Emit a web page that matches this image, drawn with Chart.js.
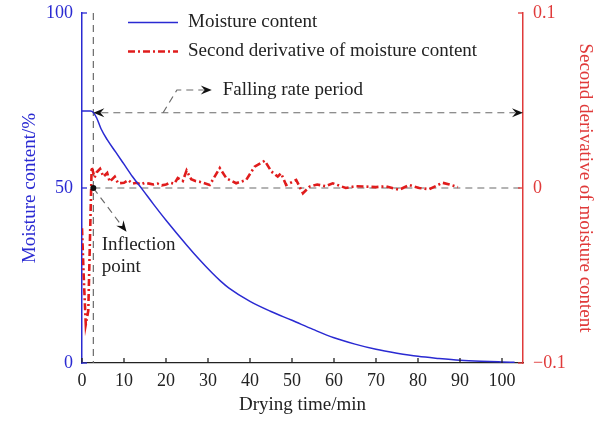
<!DOCTYPE html>
<html>
<head>
<meta charset="utf-8">
<script src="https://cdn.jsdelivr.net/npm/chart.js@4"></script>
<style>
  html, body { margin: 0; padding: 0; background: #fff; }
  #wrap { width: 602px; height: 421px; }
</style>
</head>
<body>
<div id="wrap"><canvas id="chart"></canvas></div>
<script>
// moisture content curve (%)
const timeMoist = [0, 2, 2.7, 3.5, 4.5, 6, 8, 10, 12, 14.5, 17, 20, 25, 28, 31, 33, 35, 40, 45, 50, 55, 60, 65, 70, 75, 80, 85, 90, 95, 100, 103];
const moisture  = [72, 72, 71.6, 70, 67, 63.8, 60.3, 56.8, 53.3, 49.4, 45.4, 40.8, 33.6, 29.5, 25.7, 23.4, 21.4, 17.6, 14.7, 12.2, 9.6, 7.2, 5.4, 3.9, 2.8, 1.9, 1.3, 0.8, 0.5, 0.3, 0.2];

// second derivative of moisture content
const timeDeriv = [0, 0.4, 0.9, 1.5, 2.3, 3, 3.5, 4.3, 5.1, 6, 6.6, 7.8, 8.6, 10, 11, 12, 13, 14, 15, 16, 17, 18, 19, 20, 21, 22, 22.8, 24, 24.9, 26, 27, 28, 30.4, 32.8, 34.4, 36.7, 39.1, 41.1, 43.5, 45.1, 46.6, 47.4, 48.6, 51, 52.6, 54.2, 56, 58, 59.7, 62.8, 65, 67.5, 70, 72.3, 75.5, 77.9, 80.3, 82.7, 85.8, 87.5, 89.5];
const deriv     = [-0.023, -0.05, -0.078, -0.07, 0.012, 0.006, 0.009, 0.011, 0.0065, 0.0086, 0.0036, 0.0065, 0.0027, 0.003, 0.0045, 0.0025, 0.003, 0.002, 0.003, 0.0025, 0.002, 0.0025, 0.0015, 0.002, 0.003, 0.0025, 0.0057, 0.004, 0.010, 0.005, 0.004, 0.0036, 0.0017, 0.0114, 0.0055, 0.0027, 0.0046, 0.0122, 0.0156, 0.0094, 0.0065, 0.0084, 0.0017, 0.0046, -0.003, 0.0008, 0.002, 0.001, 0.0027, 0, 0.001, 0.0008, 0.0005, 0.001, -0.001, 0.0017, 0, -0.0007, 0.003, 0.002, 0.0005];

const xTicks = [0, 10, 20, 30, 40, 50, 60, 70, 80, 90, 100];
const yTicks = [0, 50, 100];
const y2Ticks = [-0.1, 0, 0.1];

const BLUE = '#2a2ad2';
const RED = '#e01c1c';
const AXRED = '#e03a3a';
const GREY = '#6a6a6a';
const FONT = '"Liberation Serif", "Times New Roman", serif';

function arrowHead(ctx, x, y, ang, len = 11, half = 4.5) {
  ctx.save();
  ctx.translate(x, y);
  ctx.rotate(ang);
  ctx.beginPath();
  ctx.moveTo(0, 0);
  ctx.lineTo(-len, -half);
  ctx.lineTo(-len * 0.65, 0);
  ctx.lineTo(-len, half);
  ctx.closePath();
  ctx.fillStyle = '#111';
  ctx.fill();
  ctx.restore();
}

// vertical axes: no extra room for the end labels
function fitV(w) {
  return s => { s.width = w; s.paddingTop = 0; s.paddingBottom = 0; };
}

const decor = {
  id: 'decor',
  beforeDatasetsDraw(chart) {
    const { ctx, scales: { x, y } } = chart;
    const X = v => x.getPixelForValue(v), Y = v => y.getPixelForValue(v);
    ctx.save();
    ctx.strokeStyle = GREY;
    ctx.lineWidth = 1.2;
    ctx.setLineDash([7, 5]);
    // vertical line through inflection point
    ctx.beginPath();
    ctx.moveTo(X(2.7), Y(100));
    ctx.lineTo(X(2.7), Y(0));
    ctx.stroke();
    // zero line of second derivative
    ctx.beginPath();
    ctx.moveTo(X(2.7), Y(50));
    ctx.lineTo(X(105), Y(50));
    ctx.stroke();
    ctx.restore();
  },
  afterDraw(chart) {
    const { ctx, scales: { x, y, y2 } } = chart;
    const X = v => x.getPixelForValue(v), Y = v => y.getPixelForValue(v);
    const ds = chart.data.datasets;
    ctx.save();

    // inward tick marks
    ctx.lineWidth = 1.3;
    ctx.strokeStyle = '#222';
    xTicks.forEach(t => {
      ctx.beginPath();
      ctx.moveTo(X(t), y.bottom);
      ctx.lineTo(X(t), y.bottom - 5);
      ctx.stroke();
    });
    ctx.strokeStyle = BLUE;
    yTicks.forEach(t => {
      ctx.beginPath();
      ctx.moveTo(x.left, Y(t));
      ctx.lineTo(x.left + 5, Y(t));
      ctx.stroke();
    });
    ctx.strokeStyle = AXRED;
    y2Ticks.forEach(t => {
      ctx.beginPath();
      ctx.moveTo(x.right, y2.getPixelForValue(t));
      ctx.lineTo(x.right - 5, y2.getPixelForValue(t));
      ctx.stroke();
    });

    // falling rate period double arrow
    ctx.strokeStyle = GREY;
    ctx.lineWidth = 1.2;
    ctx.setLineDash([7, 5]);
    const yf = Y(71.5);
    ctx.beginPath();
    ctx.moveTo(X(2.7) + 8, yf);
    ctx.lineTo(x.right - 8, yf);
    ctx.stroke();
    // leader to the text
    ctx.beginPath();
    ctx.moveTo(X(19.3), yf);
    ctx.lineTo(X(22.6), Y(78));
    ctx.lineTo(X(30.9) - 8, Y(78));
    ctx.stroke();
    // inflection arrow
    ctx.beginPath();
    ctx.moveTo(X(2.7), Y(50));
    ctx.lineTo(X(10.6) - 4, Y(37.5) - 5);
    ctx.stroke();
    ctx.setLineDash([]);
    arrowHead(ctx, X(2.7), yf, Math.PI);
    arrowHead(ctx, x.right, yf, 0);
    arrowHead(ctx, X(30.9), Y(78), 0);
    arrowHead(ctx, X(10.6), Y(37.5), Math.atan2(Y(37.5) - Y(50), X(10.6) - X(2.7)));

    // inflection point dot
    ctx.fillStyle = '#111';
    ctx.beginPath();
    ctx.arc(X(2.7), Y(50), 3, 0, Math.PI * 2);
    ctx.fill();

    // annotation text
    ctx.font = '19px ' + FONT;
    ctx.fillStyle = '#222';
    ctx.textBaseline = 'middle';
    ctx.textAlign = 'left';
    ctx.fillText('Falling rate period', X(33.5), Y(78));
    ctx.fillText('Inflection', X(4.7), Y(33.7));
    ctx.fillText('point', X(4.7), Y(27.5));

    // legend
    const lx0 = 128, lx1 = 178, tx = 188;
    [[ds[0], 22.5], [ds[1], 51.5]].forEach(([d, ly]) => {
      ctx.strokeStyle = d.borderColor;
      ctx.lineWidth = d.borderWidth;
      ctx.setLineDash(d.borderDash || []);
      ctx.beginPath();
      ctx.moveTo(lx0, ly);
      ctx.lineTo(lx1, ly);
      ctx.stroke();
      ctx.setLineDash([]);
      ctx.fillText(d.label, tx, ly);
    });
    ctx.restore();
  }
};

new Chart(document.getElementById('chart'), {
  type: 'line',
  data: {
    datasets: [
      {
        label: 'Moisture content',
        data: timeMoist.map((t, i) => ({ x: t, y: moisture[i] })),
        yAxisID: 'y',
        borderColor: BLUE,
        borderWidth: 1.5,
        pointRadius: 0,
        cubicInterpolationMode: 'monotone'
      },
      {
        label: 'Second derivative of moisture content',
        data: timeDeriv.map((t, i) => ({ x: t, y: deriv[i] })),
        yAxisID: 'y2',
        borderColor: RED,
        borderWidth: 2.6,
        borderDash: [7, 3, 2, 3],
        pointRadius: 0,
        tension: 0
      }
    ]
  },
  options: {
    responsive: true,
    maintainAspectRatio: false,
    animation: false,
    layout: { padding: { top: 13, left: 0, right: 0, bottom: 0 } },
    plugins: { legend: { display: false }, tooltip: { enabled: false } },
    scales: {
      x: {
        type: 'linear',
        min: 0, max: 105,
        afterFit: s => { s.height = 58; s.paddingLeft = 0; s.paddingRight = 0; },
        afterBuildTicks: s => { s.ticks = xTicks.map(v => ({ value: v })); },
        grid: { display: false, drawTicks: false },
        border: { display: true, color: '#222', width: 1.3 },
        ticks: { color: '#222', padding: 7, maxRotation: 0, font: { family: FONT, size: 18 } },
        title: { display: true, text: 'Drying time/min', color: '#222', padding: { top: 0, bottom: 5 }, font: { family: FONT, size: 19 } }
      },
      y: {
        position: 'left',
        min: 0, max: 100,
        afterFit: fitV(82),
        afterBuildTicks: s => { s.ticks = yTicks.map(v => ({ value: v })); },
        grid: { display: false, drawTicks: false },
        border: { display: true, color: BLUE, width: 1.5 },
        ticks: { color: BLUE, padding: 9, font: { family: FONT, size: 18 } },
        title: { display: true, text: 'Moisture content/%', color: BLUE, padding: { top: 19, bottom: 0 }, font: { family: FONT, size: 19 } }
      },
      y2: {
        position: 'right',
        min: -0.1, max: 0.1,
        afterFit: fitV(79),
        afterBuildTicks: s => { s.ticks = y2Ticks.map(v => ({ value: v })); },
        grid: { display: false, drawTicks: false },
        border: { display: true, color: AXRED, width: 1.5 },
        ticks: {
          color: AXRED, padding: 10, font: { family: FONT, size: 18 },
          callback: v => v < 0 ? '\u22120.1' : (v === 0 ? '0' : '0.1')
        },
        title: { display: true, text: 'Second derivative of moisture content', color: AXRED, padding: { top: 6, bottom: 0 }, font: { family: FONT, size: 19 } }
      }
    }
  },
  plugins: [decor]
});
</script>
</body>
</html>
